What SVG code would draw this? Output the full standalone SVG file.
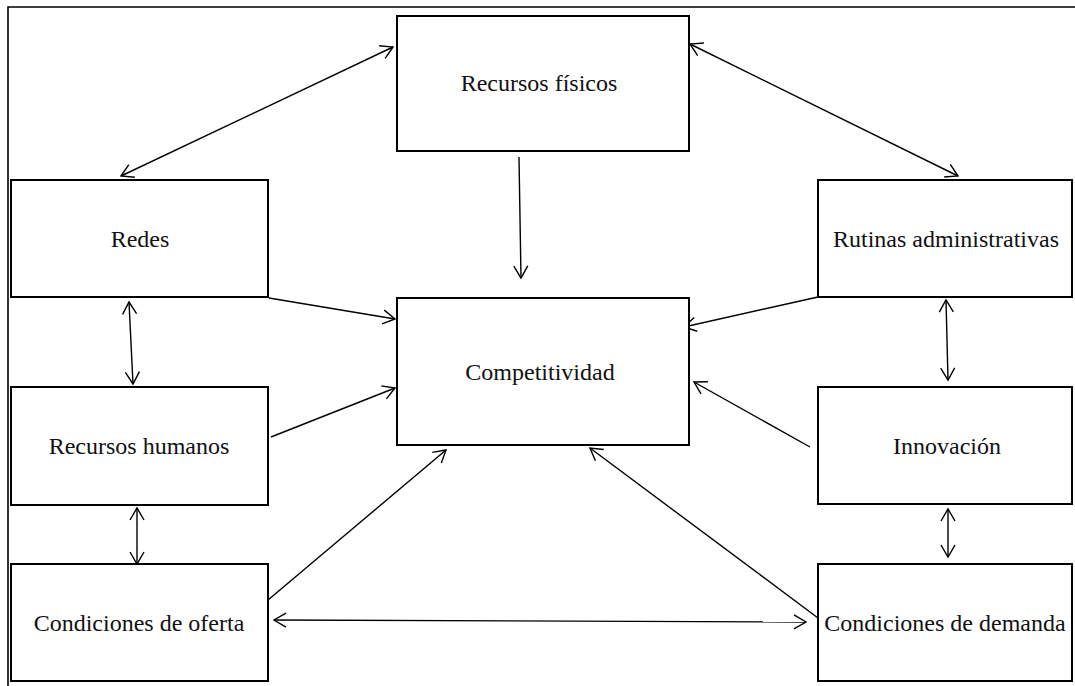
<svg xmlns="http://www.w3.org/2000/svg" width="1075" height="686" viewBox="0 0 1075 686">
<style>
.box{fill:#fff;stroke:#000;stroke-width:2}
.lbl{font-family:"Liberation Serif","Times New Roman",serif;font-size:24px;fill:#111;text-anchor:middle}
.c{stroke:#000;stroke-width:1.4;fill:none}
.frame{stroke:#000;stroke-width:1.6;fill:none}
</style>
<defs>
<marker id="ah" markerUnits="userSpaceOnUse" markerWidth="20" markerHeight="20" viewBox="-14 -10 16 20" refX="0" refY="0" orient="auto-start-reverse">
<path d="M-12,-7 L0,0 L-12,7" fill="none" stroke="#000" stroke-width="1.4"/>
</marker>
</defs>
<rect width="1075" height="686" fill="#fff"/>
<path class="frame" d="M8,686 L8,7 L1075,7"/>
<g id="connectors">
<line class="c" x1="121" y1="176" x2="393" y2="47" marker-start="url(#ah)" marker-end="url(#ah)"/>
<line class="c" x1="690" y1="44" x2="958" y2="176" marker-start="url(#ah)" marker-end="url(#ah)"/>
<line class="c" x1="519" y1="157" x2="521" y2="278" marker-end="url(#ah)"/>
<line class="c" x1="269" y1="298" x2="395" y2="319" marker-end="url(#ah)"/>
<line class="c" x1="271" y1="437" x2="395" y2="388" marker-end="url(#ah)"/>
<line class="c" x1="129" y1="302" x2="133" y2="384" marker-start="url(#ah)" marker-end="url(#ah)"/>
<line class="c" x1="137" y1="508" x2="137" y2="564" marker-start="url(#ah)" marker-end="url(#ah)"/>
<line class="c" x1="268" y1="600" x2="446" y2="450" marker-end="url(#ah)"/>
<line class="c" x1="818" y1="618" x2="590" y2="448" marker-end="url(#ah)"/>
<line class="c" x1="274" y1="620" x2="806" y2="622" marker-start="url(#ah)" marker-end="url(#ah)"/>
<line class="c" x1="818" y1="297" x2="684" y2="327" marker-end="url(#ah)"/>
<line class="c" x1="810" y1="447" x2="694" y2="382" marker-end="url(#ah)"/>
<line class="c" x1="946" y1="300" x2="948" y2="380" marker-start="url(#ah)" marker-end="url(#ah)"/>
<line class="c" x1="948" y1="509" x2="948" y2="557" marker-start="url(#ah)" marker-end="url(#ah)"/>
</g>
<g id="recursos-fisicos"><rect class="box" x="397" y="16" width="292" height="135"/><text class="lbl" x="539" y="91">Recursos físicos</text></g>
<g id="redes"><rect class="box" x="11" y="180" width="257" height="117"/><text class="lbl" x="140" y="247">Redes</text></g>
<g id="rutinas"><rect class="box" x="818" y="180" width="254" height="117"/><text class="lbl" x="946" y="247">Rutinas administrativas</text></g>
<g id="competitividad"><rect class="box" x="397" y="298" width="292" height="147"/><text class="lbl" x="540" y="380">Competitividad</text></g>
<g id="recursos-humanos"><rect class="box" x="11" y="387" width="257" height="118"/><text class="lbl" x="139" y="454">Recursos humanos</text></g>
<g id="innovacion"><rect class="box" x="818" y="387" width="254" height="117"/><text class="lbl" x="947" y="454">Innovación</text></g>
<g id="condiciones-oferta"><rect class="box" x="11" y="564" width="257" height="117"/><text class="lbl" x="139" y="631">Condiciones de oferta</text></g>
<g id="condiciones-demanda"><rect class="box" x="818" y="564" width="254" height="117"/><text class="lbl" x="945" y="631">Condiciones de demanda</text></g>
</svg>
